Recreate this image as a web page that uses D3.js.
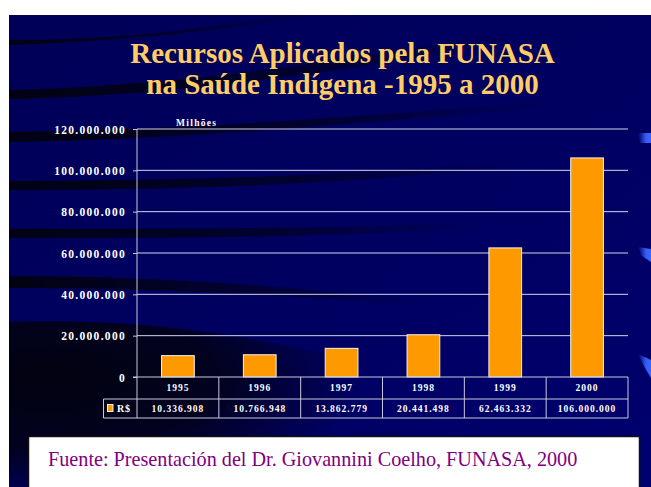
<!DOCTYPE html>
<html><head><meta charset="utf-8">
<script src="https://cdn.jsdelivr.net/npm/d3@7"></script>
<style>html,body{margin:0;padding:0;background:#fff;}svg{display:block;}
svg text{font-family:'Liberation Serif','Times New Roman',serif;}
</style>
</head><body><svg id="c" width="651" height="487"></svg>
<script>
const years = ["1995","1996","1997","1998","1999","2000"];
const values = [10336908, 10766948, 13862779, 20441498, 62463332, 106000000];
const tickValues = [0, 20000000, 40000000, 60000000, 80000000, 100000000, 120000000];
const titleLines = ["Recursos Aplicados pela FUNASA", "na Saúde Indígena -1995 a 2000"];
const seriesName = "R$";
const unitLabel = "Milhões";
const sourceText = "Fuente: Presentación del Dr. Giovannini Coelho, FUNASA, 2000";

const svg = d3.select("#c");
const defs = svg.append("defs");
const loc = d3.formatLocale({decimal: ",", thousands: ".", grouping: [3], currency: ["", ""]});
const fmt = loc.format(",");

// background
const bg = defs.append("linearGradient").attr("id","bg").attr("x1",0).attr("y1",0).attr("x2",1).attr("y2",1);
bg.append("stop").attr("offset","0%").attr("stop-color","#000058");
bg.append("stop").attr("offset","60%").attr("stop-color","#000062");
bg.append("stop").attr("offset","100%").attr("stop-color","#000070");
svg.append("rect").attr("x",9).attr("y",15).attr("width",642).attr("height",472).attr("fill","url(#bg)");

const sg = defs.append("linearGradient").attr("id","streak").attr("x1",0).attr("y1",0).attr("x2",1).attr("y2",0);
sg.append("stop").attr("offset","0%").attr("stop-color","#02020f").attr("stop-opacity",0.95);
sg.append("stop").attr("offset","55%").attr("stop-color","#02020f").attr("stop-opacity",0.6);
sg.append("stop").attr("offset","100%").attr("stop-color","#02020f").attr("stop-opacity",0);
const streaks = [
  "M9,45 C120,42 220,30 320,15 L290,15 C200,30 110,40 9,40 Z",
  "M9,90 C150,86 300,70 520,30 L520,40 C300,80 150,96 9,99 Z",
  "M9,132 C160,130 330,120 560,100 L560,106 C330,126 160,140 9,142 Z",
  "M9,181 C160,180 330,178 520,160 L520,166 C330,186 160,190 9,190 Z",
  "M9,229 C160,228 320,230 480,222 L480,228 C320,238 160,238 9,238 Z",
  "M9,276 C140,276 280,285 420,300 L420,306 C280,294 140,288 9,288 Z"
];
svg.selectAll("path.streak").data(streaks).join("path").attr("class","streak")
  .attr("d", d => d).attr("fill","url(#streak)");
const dg = defs.append("radialGradient").attr("id","dark").attr("cx",0.1).attr("cy",0.35).attr("r",0.75);
dg.append("stop").attr("offset","0%").attr("stop-color","#020210").attr("stop-opacity",1);
dg.append("stop").attr("offset","55%").attr("stop-color","#020214").attr("stop-opacity",0.85);
dg.append("stop").attr("offset","100%").attr("stop-color","#020214").attr("stop-opacity",0);
svg.append("path").attr("d","M9,322 C120,318 260,330 420,380 L420,487 L9,487 Z").attr("fill","url(#dark)");

// right edge blue slivers
const hg = defs.append("linearGradient").attr("id","hl").attr("x1",0).attr("y1",0).attr("x2",1).attr("y2",0);
hg.append("stop").attr("offset","0%").attr("stop-color","#2a55ff").attr("stop-opacity",0);
hg.append("stop").attr("offset","60%").attr("stop-color","#3a66ff").attr("stop-opacity",0.9);
hg.append("stop").attr("offset","100%").attr("stop-color","#3a66ff").attr("stop-opacity",1);
const slivers = ["M638,133 L651,133 L651,143 L640,143 Z","M638,247 L651,249 L651,262 L642,256 Z","M638,354 L651,360 L651,378 L645,368 Z"];
svg.selectAll("path.sl").data(slivers).join("path").attr("class","sl").attr("d",d=>d).attr("fill","url(#hl)");

// title
svg.selectAll("text.title").data(titleLines).join("text").attr("class","title")
  .attr("x",342.5).attr("y",(d,i)=>63+i*30.5).attr("text-anchor","middle")
  .style("font-weight","bold").style("font-size","29px").attr("fill","#ffcc66").text(d=>d);

// scales
const x = d3.scaleBand().domain(years).range([137,628]).paddingInner(0).paddingOuter(0);
const y = d3.scaleLinear().domain([0,120000000]).range([377,129]);

// grid
svg.append("g").selectAll("line").data(tickValues.filter(v=>v>0)).join("line")
  .attr("x1",137).attr("x2",628).attr("y1",d=>y(d)).attr("y2",d=>y(d))
  .attr("stroke","#d4d4ea").attr("stroke-width",1);

// y axis
const yAxis = d3.axisLeft(y).tickValues(tickValues).tickFormat(fmt).tickSize(4).tickPadding(7);
const ya = svg.append("g").attr("transform","translate(137,0)").call(yAxis);
ya.attr("font-family",null).attr("font-size",null);
ya.select(".domain").attr("stroke","#c8c8dc").attr("d","M0,129V377");
ya.selectAll(".tick line").attr("stroke","#c8c8dc");
ya.selectAll(".tick text").attr("fill","#ffffff")
  .style("font-weight","bold").style("font-size","11.5px").style("letter-spacing","1.3px").attr("dy","0.35em");

svg.append("text").attr("x",176).attr("y",126).attr("fill","#fff")
  .style("font-weight","bold").style("font-size","9.5px").style("letter-spacing","1.3px").text(unitLabel);

// bars
const bw = x.bandwidth()*0.4;
svg.append("g").selectAll("rect").data(years).join("rect")
  .attr("x",d=>x(d)+x.bandwidth()/2-bw/2).attr("width",bw)
  .attr("y",(d,i)=>y(values[i])).attr("height",(d,i)=>y(0)-y(values[i]))
  .attr("fill","#ff9900").attr("stroke","#f4f4f4").attr("stroke-width",1);

// data table
const tg = svg.append("g").attr("stroke","#c8c8dc").attr("stroke-width",1).attr("fill","none");
tg.append("line").attr("x1",133).attr("x2",628).attr("y1",377).attr("y2",377);
tg.append("line").attr("x1",103.5).attr("x2",628).attr("y1",399).attr("y2",399);
tg.append("line").attr("x1",103.5).attr("x2",628).attr("y1",418).attr("y2",418);
tg.append("line").attr("x1",103.5).attr("x2",103.5).attr("y1",399).attr("y2",418);
tg.selectAll("line.col").data(years.concat(["end"])).join("line").attr("class","col")
  .attr("x1",d=>d==="end"?628:x(d)).attr("x2",d=>d==="end"?628:x(d)).attr("y1",377).attr("y2",418);

const tstyle = s => s.attr("fill","#fff").style("font-weight","bold").style("font-size","9.5px")
  .style("letter-spacing","1px").attr("text-anchor","middle");
svg.append("g").selectAll("text").data(years).join("text")
  .attr("x",d=>x(d)+x.bandwidth()/2).attr("y",391).call(tstyle).text(d=>d);
svg.append("g").selectAll("text").data(years).join("text")
  .attr("x",d=>x(d)+x.bandwidth()/2).attr("y",411.5).call(tstyle).text((d,i)=>fmt(values[i]));
svg.append("rect").attr("x",107.5).attr("y",404.5).attr("width",5.5).attr("height",7)
  .attr("fill","#ff9900").attr("stroke","#f4f4f4").attr("stroke-width",1);
svg.append("text").attr("x",117).attr("y",411.5).attr("fill","#fff")
  .style("font-weight","bold").style("font-size","10px").style("letter-spacing","0.8px").text(seriesName);

// source box
svg.append("rect").attr("x",28.5).attr("y",436.5).attr("width",611).attr("height",60)
  .attr("fill","#ffffff").attr("stroke","#111").attr("stroke-width",1.5);
svg.append("text").attr("x",48).attr("y",466).attr("fill","#800080")
  .style("font-size","20.2px").text(sourceText);
</script></body></html>
